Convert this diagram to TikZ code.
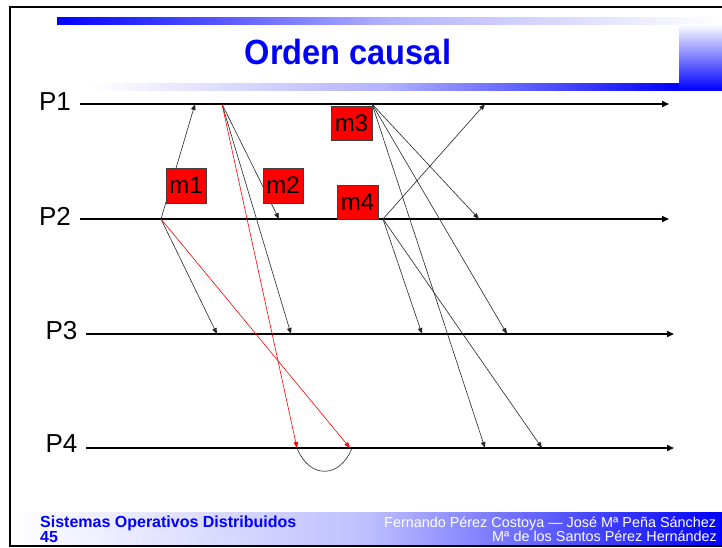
\documentclass[tikz,border=0pt]{standalone}
\usepackage{fontspec}
\setmainfont{Liberation Sans}
\newfontfamily\titlefont[FakeStretch=0.93]{Liberation Sans}
\usetikzlibrary{arrows.meta,calc}
\begin{document}
\begin{tikzpicture}[x=1pt,y=-1pt,
  proc/.style={line width=1.6pt,-{Triangle[length=7pt,width=6pt]}},
  msg/.style={line width=0.6pt,draw=black!85,-{Triangle[length=6pt,width=4.5pt]}},
  rmsg/.style={line width=0.6pt,draw=red,-{Triangle[length=6pt,width=4.5pt]}},
  plabel/.style={inner sep=0pt,font=\fontsize{26}{26}\selectfont},
  mbox/.style={draw=black!75,fill=red,line width=0.6pt,inner sep=0pt,
    font=\fontsize{24}{24}\selectfont},
  foot/.style={anchor=base west,inner sep=0pt}
]
\useasboundingbox (0,0) rectangle (722,547);
\clip (0,0) rectangle (722,547);
\fill[white] (0,0) rectangle (722,547);
% title decoration
\shade[left color=blue,right color=white,middle color=blue!30] (57,17) rectangle (722,24);
\shade[top color=white,bottom color=blue] (679,24) rectangle (722,90);
\shade[left color=white,right color=blue,middle color=blue!30] (90,83) rectangle (679,90);
% footer band
\shade[left color=white,right color=blue,middle color=blue!25] (10,512) rectangle (722,546);
% frame
\draw[line width=2pt] (723,6.5) -- (9.5,6.5) -- (9.5,546) -- (723,546);
% title
\node[font=\titlefont\bfseries\fontsize{35}{35}\selectfont,text=blue,inner sep=0pt] (title) at (348,51.5) {Orden causal};
% process labels
\node[plabel] (P1) at (55,101.5) {P1};
\node[plabel] (P2) at (55,216.5) {P2};
\node[plabel] (P3) at (61.5,330.5) {P3};
\node[plabel] (P4) at (61.5,444) {P4};
% process lines
\coordinate (p1s) at (80,104);  \coordinate (p1e) at (669,104);
\coordinate (p2s) at (80,219);  \coordinate (p2e) at (669,219);
\coordinate (p3s) at (86,334);  \coordinate (p3e) at (674,334);
\coordinate (p4s) at (86,448);  \coordinate (p4e) at (674,448);
\draw[proc] (p1s) -- (p1e);
\draw[proc] (p2s) -- (p2e);
\draw[proc] (p3s) -- (p3e);
\draw[proc] (p4s) -- (p4e);
% events
\coordinate (a) at (161,219);
\coordinate (a1) at (195,104);
\coordinate (a3) at (217,334);
\coordinate (a4) at (350,448);
\coordinate (b) at (222,104);
\coordinate (b2) at (279,219);
\coordinate (b3) at (291,334);
\coordinate (b4) at (297,448);
\coordinate (c) at (372,104);
\coordinate (c2) at (479,219);
\coordinate (c3) at (507,334);
\coordinate (c4) at (485,448);
\coordinate (d) at (383,219);
\coordinate (d1) at (485,104);
\coordinate (d3) at (422,334);
\coordinate (d4) at (542,448);
% messages
\draw[msg] (a) -- (a1);
\draw[msg] (a) -- (a3);
\draw[rmsg] (a) -- (a4);
\draw[msg] (b) -- (b2);
\draw[msg] (b) -- (b3);
\draw[rmsg] (b) -- (b4);
\draw[msg] (c) -- (c2);
\draw[msg] (c) -- (c3);
\draw[msg] (c) -- (c4);
\draw[msg] (d) -- (d1);
\draw[msg] (d) -- (d3);
\draw[msg] (d) -- (d4);
% arc under P4
\draw[line width=0.6pt,black!85] (b4) .. controls ($(b4)+(12,31)$) and ($(a4)+(-10,31)$) .. ($(a4)+(2,0)$);
% message boxes
\node[mbox,minimum width=40pt,minimum height=35pt] (m1) at (186,185.5) {m1};
\node[mbox,minimum width=40pt,minimum height=35pt] (m2) at (283,185.5) {m2};
\node[mbox,minimum width=41pt,minimum height=34pt] (m3) at (351.5,123) {m3};
\node[mbox,minimum width=41pt,minimum height=34pt] (m4) at (357.5,202) {m4};
% footer texts
\node[foot,text=blue,font=\bfseries\fontsize{16}{16}\selectfont] (f1) at (40,527) {Sistemas Operativos Distribuidos};
\node[foot,text=blue,font=\bfseries\fontsize{16}{16}\selectfont] (f2) at (40,542) {45};
\node[foot,text=white,font=\fontsize{14.4}{14.4}\selectfont] (f3) at (384,527) {Fernando Pérez Costoya — José Mª Peña Sánchez};
\node[foot,text=white,font=\fontsize{14.4}{14.4}\selectfont] (f4) at (492,541) {Mª de los Santos Pérez Hernández};
\end{tikzpicture}
\end{document}
